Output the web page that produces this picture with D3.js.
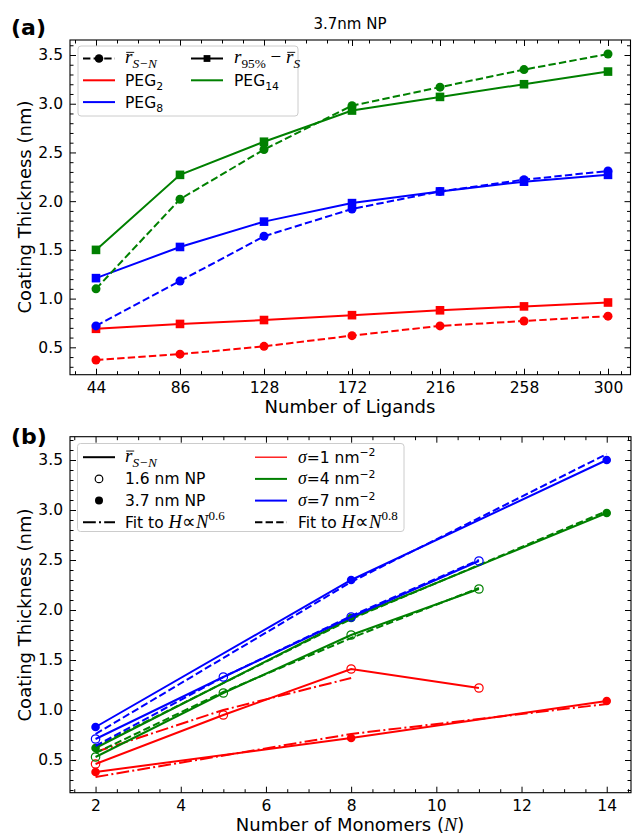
<!DOCTYPE html>
<html><head><meta charset="utf-8">
<script src="https://cdn.jsdelivr.net/npm/d3@7"></script>
<style>body{margin:0;background:#fff} svg{display:block}</style>
</head><body><svg id="c" width="632" height="837"></svg>
<script>
// ---------- Panel (a) data ----------
const ligands = [44, 86, 128, 172, 216, 258, 300];
const peg2_rSN  = [0.37, 0.43, 0.51, 0.62, 0.72, 0.77, 0.82];
const peg2_r95  = [0.69, 0.74, 0.78, 0.83, 0.88, 0.92, 0.96];
const peg8_rSN  = [0.72, 1.18, 1.64, 1.92, 2.10, 2.22, 2.31];
const peg8_r95  = [1.21, 1.53, 1.79, 1.98, 2.10, 2.20, 2.27];
const peg14_rSN = [1.10, 2.02, 2.53, 2.98, 3.17, 3.35, 3.51];
const peg14_r95 = [1.50, 2.27, 2.61, 2.93, 3.07, 3.20, 3.33];
const xTicksA = [44, 86, 128, 172, 216, 258, 300];
const yTicks = [0.5, 1.0, 1.5, 2.0, 2.5, 3.0, 3.5];

// ---------- Panel (b) data ----------
const monomers16 = [2, 5, 8, 11];
const monomers37 = [2, 8, 14];
const monomersFit16s1 = [2, 5, 8];
const np16_s1 = [0.46, 0.95, 1.41, 1.22];
const np16_s4 = [0.53, 1.17, 1.75, 2.21];
const np16_s7 = [0.71, 1.33, 1.93, 2.49];
const np37_s1 = [0.38, 0.72, 1.09];
const np37_s4 = [0.62, 1.92, 2.97];
const np37_s7 = [0.83, 2.30, 3.50];
const fit16_s1 = [0.58, 1.00, 1.32];      // H ~ N^0.6
const fit37_s1 = [0.33, 0.76, 1.06];      // H ~ N^0.6
const fit16_s4 = [0.57, 1.18, 1.72, 2.22]; // H ~ N^0.8
const fit16_s7 = [0.64, 1.33, 1.94, 2.50];
const fit37_s4 = [0.63, 1.91, 2.99];
const fit37_s7 = [0.76, 2.28, 3.56];
const xTicksB = [2, 4, 6, 8, 10, 12, 14];

const RED = "#ff0000", GREEN = "#008000", BLUE = "#0000ff";
const SANS = "DejaVu Sans", SERIF = "Liberation Serif";
const DASH = "7.4,3.2", DASHDOT = "12.8,3.2,2,3.2";

const svg = d3.select("#c");

function richText(sel, x, y, parts, size, anchor) {
  const t = sel.append("text").attr("x", x).attr("y", y)
    .attr("font-size", size).attr("font-family", SANS).attr("fill", "#000");
  if (anchor) t.attr("text-anchor", anchor);
  let shift = 0, idx = 0;
  const bars = [];
  parts.forEach(p => {
    const base = size * (p.k || 1);
    const target = p.sub ? base * 0.28 : p.sup ? -base * 0.42 : 0;
    const ts = t.append("tspan").text(p.t).attr("dy", target - shift);
    shift = target;
    ts.attr("font-size", (p.sub || p.sup) ? base * 0.7 : base);
    if (p.f === "it") ts.attr("font-family", SERIF).attr("font-style", "italic");
    else if (p.f === "rm") ts.attr("font-family", SERIF);
    if (p.bar) bars.push(idx);
    idx += p.t.length;
  });
  bars.forEach(i => {
    const n = t.node();
    const s = n.getStartPositionOfChar(i), e = n.getEndPositionOfChar(i);
    sel.append("line").attr("x1", s.x + 1.2).attr("x2", e.x + 1.8)
      .attr("y1", y - size * 0.56).attr("y2", y - size * 0.56)
      .attr("stroke", "#000").attr("stroke-width", 0.9);
  });
  return t;
}

function frame(g, x, y, xMinor, yMinor, xTicks, yTicksArr, xFmt, yFmt) {
  const [x0, x1] = x.range(), [y0, y1] = y.range();
  const mk = (axis, tr, size, fmt, vals) => {
    const a = g.append("g").attr("transform", tr)
      .call(axis.tickValues(vals).tickSizeInner(size).tickSizeOuter(0).tickPadding(7).tickFormat(fmt));
    a.select(".domain").remove();
    a.selectAll("line").attr("stroke", "#000").attr("stroke-width", 1);
    a.selectAll("text").attr("font-family", SANS).attr("font-size", 15.5).attr("fill", "#000");
    return a;
  };
  const none = () => "";
  mk(d3.axisBottom(x), `translate(0,${y0})`, -6, xFmt, xTicks);
  mk(d3.axisTop(x), `translate(0,${y1})`, -6, none, xTicks);
  mk(d3.axisLeft(y), `translate(${x0},0)`, -6, yFmt, yTicksArr);
  mk(d3.axisRight(y), `translate(${x1},0)`, -6, none, yTicksArr);
  mk(d3.axisBottom(x), `translate(0,${y0})`, -3.5, none, xMinor);
  mk(d3.axisTop(x), `translate(0,${y1})`, -3.5, none, xMinor);
  mk(d3.axisLeft(y), `translate(${x0},0)`, -3.5, none, yMinor);
  mk(d3.axisRight(y), `translate(${x1},0)`, -3.5, none, yMinor);
  g.append("rect").attr("x", x0).attr("y", y1).attr("width", x1 - x0).attr("height", y0 - y1)
    .attr("fill", "none").attr("stroke", "#000").attr("stroke-width", 1.1);
}

function near(arr, v) { return arr.some(a => Math.abs(a - v) < 1e-6); }

// =================== Panel (a) ===================
const xa = d3.scaleLinear().domain([31, 311.25]).range([70, 630.5]);
const ya = d3.scaleLinear().domain([0.219, 3.654]).range([374.7, 40]);
const ga = svg.append("g");
const clipA = svg.append("clipPath").attr("id", "clipA");
clipA.append("rect").attr("x", 70).attr("y", 40).attr("width", 560.5).attr("height", 334.7);

const xMinorA = d3.range(-1, 26).map(k => 44 + k * 10.5).filter(v => v > 31 && v < 311 && !near(xTicksA, v));
const yMinorA = d3.range(3, 37).map(k => +(k / 10).toFixed(1)).filter(v => v > 0.219 && v < 3.654 && !near(yTicks, v));
frame(ga, xa, ya, xMinorA, yMinorA, xTicksA, yTicks, d3.format("d"), d3.format(".1f"));

const plotA = ga.append("g").attr("clip-path", "url(#clipA)");
const lineA = d3.line().x(d => xa(d[0])).y(d => ya(d[1]));
const seriesA = [
  { v: peg2_rSN, c: RED, dash: DASH, m: "circle" },
  { v: peg2_r95, c: RED, dash: null, m: "square" },
  { v: peg8_rSN, c: BLUE, dash: DASH, m: "circle" },
  { v: peg8_r95, c: BLUE, dash: null, m: "square" },
  { v: peg14_rSN, c: GREEN, dash: DASH, m: "circle" },
  { v: peg14_r95, c: GREEN, dash: null, m: "square" },
];
seriesA.forEach(s => {
  const pts = ligands.map((l, i) => [l, s.v[i]]);
  plotA.append("path").attr("d", lineA(pts)).attr("fill", "none")
    .attr("stroke", s.c).attr("stroke-width", 2).attr("stroke-dasharray", s.dash);
  pts.forEach(p => {
    if (s.m === "circle")
      plotA.append("circle").attr("cx", xa(p[0])).attr("cy", ya(p[1])).attr("r", 4.5).attr("fill", s.c);
    else
      plotA.append("rect").attr("x", xa(p[0]) - 4.3).attr("y", ya(p[1]) - 4.3)
        .attr("width", 8.6).attr("height", 8.6).attr("fill", s.c);
  });
});

svg.append("text").attr("x", 350).attr("y", 28.5).attr("text-anchor", "middle")
  .attr("font-family", SANS).attr("font-size", 15).text("3.7nm NP");
svg.append("text").attr("x", 11).attr("y", 35).attr("font-family", SANS)
  .attr("font-weight", "bold").attr("font-size", 22).text("(a)");
svg.append("text").attr("x", 350).attr("y", 413).attr("text-anchor", "middle")
  .attr("font-family", SANS).attr("font-size", 18).text("Number of Ligands");
svg.append("text").attr("transform", "translate(31,207) rotate(-90)").attr("text-anchor", "middle")
  .attr("font-family", SANS).attr("font-size", 18).text("Coating Thickness (nm)");

// legend (a)
const MATH = 19;
const la = svg.append("g");
la.append("rect").attr("x", 78).attr("y", 46).attr("width", 220).attr("height", 70).attr("rx", 3)
  .attr("fill", "#fff").attr("fill-opacity", 0.8).attr("stroke", "#cccccc").attr("stroke-width", 1);
const rowsA = [58.5, 80.3, 102.1];
la.append("line").attr("x1", 83).attr("x2", 115).attr("y1", rowsA[0]).attr("y2", rowsA[0])
  .attr("stroke", "#000").attr("stroke-width", 2).attr("stroke-dasharray", DASH);
la.append("circle").attr("cx", 99).attr("cy", rowsA[0]).attr("r", 4.3).attr("fill", "#000");
richText(la, 125, rowsA[0] + 4.5, [{ t: "r", f: "it", bar: true }, { t: "S\u2212N", f: "it", sub: true }], MATH);
la.append("line").attr("x1", 83).attr("x2", 115).attr("y1", rowsA[1]).attr("y2", rowsA[1]).attr("stroke", RED).attr("stroke-width", 2);
richText(la, 125, rowsA[1] + 5.5, [{ t: "PEG" }, { t: "2", sub: true }], 15.5);
la.append("line").attr("x1", 83).attr("x2", 115).attr("y1", rowsA[2]).attr("y2", rowsA[2]).attr("stroke", BLUE).attr("stroke-width", 2);
richText(la, 125, rowsA[2] + 5.5, [{ t: "PEG" }, { t: "8", sub: true }], 15.5);
la.append("line").attr("x1", 191).attr("x2", 223).attr("y1", rowsA[0]).attr("y2", rowsA[0]).attr("stroke", "#000").attr("stroke-width", 2);
la.append("rect").attr("x", 207 - 3.4).attr("y", rowsA[0] - 3.4).attr("width", 6.8).attr("height", 6.8).attr("fill", "#000");
richText(la, 234, rowsA[0] + 4.5, [{ t: "r", f: "it" }, { t: "95%", f: "rm", sub: true }, { t: " \u2212 ", f: "rm" }, { t: "r", f: "it", bar: true }, { t: "S", f: "it", sub: true }], MATH);
la.append("line").attr("x1", 191).attr("x2", 223).attr("y1", rowsA[1]).attr("y2", rowsA[1]).attr("stroke", GREEN).attr("stroke-width", 2);
richText(la, 234, rowsA[1] + 5.5, [{ t: "PEG" }, { t: "14", sub: true }], 15.5);

// =================== Panel (b) ===================
const xb = d3.scaleLinear().domain([1.4, 14.57]).range([70, 631]);
const yb = d3.scaleLinear().domain([0.173, 3.733]).range([792.7, 436.7]);
const gb = svg.append("g");
const clipB = svg.append("clipPath").attr("id", "clipB");
clipB.append("rect").attr("x", 70).attr("y", 436.7).attr("width", 561).attr("height", 356);
const xMinorB = d3.range(3, 30).map(k => k / 2).filter(v => v > 1.4 && v < 14.57 && !near(xTicksB, v));
const yMinorB = d3.range(2, 38).map(k => +(k / 10).toFixed(1)).filter(v => v > 0.173 && v < 3.733 && !near(yTicks, v));
frame(gb, xb, yb, xMinorB, yMinorB, xTicksB, yTicks, d3.format("d"), d3.format(".1f"));

const plotB = gb.append("g").attr("clip-path", "url(#clipB)");
const lineB = d3.line().x(d => xb(d[0])).y(d => yb(d[1]));
function pathB(xs, ys, c, dash, w) {
  plotB.append("path").attr("d", lineB(xs.map((x, i) => [x, ys[i]]))).attr("fill", "none")
    .attr("stroke", c).attr("stroke-width", w || 2).attr("stroke-dasharray", dash);
}
function markersB(xs, ys, c, filled) {
  xs.forEach((x, i) => {
    const m = plotB.append("circle").attr("cx", xb(x)).attr("cy", yb(ys[i])).attr("r", filled ? 4.3 : 4.2);
    if (filled) m.attr("fill", c); else m.attr("fill", "none").attr("stroke", c).attr("stroke-width", 1.2);
  });
}
const dataB = [
  { c: RED, d16: np16_s1, d37: np37_s1, f16: fit16_s1, f16x: monomersFit16s1, f37: fit37_s1, dash: DASHDOT },
  { c: GREEN, d16: np16_s4, d37: np37_s4, f16: fit16_s4, f16x: monomers16, f37: fit37_s4, dash: DASH },
  { c: BLUE, d16: np16_s7, d37: np37_s7, f16: fit16_s7, f16x: monomers16, f37: fit37_s7, dash: DASH },
];
dataB.forEach(s => {
  pathB(monomers16, s.d16, s.c, null);
  markersB(monomers16, s.d16, s.c, false);
  pathB(monomers37, s.d37, s.c, null);
  markersB(monomers37, s.d37, s.c, true);
  pathB(s.f16x, s.f16, s.c, s.dash);
  pathB(monomers37, s.f37, s.c, s.dash);
});

svg.append("text").attr("x", 11).attr("y", 444).attr("font-family", SANS)
  .attr("font-weight", "bold").attr("font-size", 22).text("(b)");
richText(svg, 350, 831, [{ t: "Number of Monomers (" }, { t: "N", f: "it", k: 1.1 }, { t: ")" }], 18, "middle");
svg.append("text").attr("transform", "translate(31,615) rotate(-90)").attr("text-anchor", "middle")
  .attr("font-family", SANS).attr("font-size", 18).text("Coating Thickness (nm)");

// legend (b)
const lb = svg.append("g");
lb.append("rect").attr("x", 77.5).attr("y", 443.5).attr("width", 326.5).attr("height", 88).attr("rx", 3)
  .attr("fill", "#fff").attr("fill-opacity", 0.8).attr("stroke", "#cccccc").attr("stroke-width", 1);
const rowsB = [457.2, 478.9, 500.6, 522.3];
lb.append("line").attr("x1", 83).attr("x2", 115).attr("y1", rowsB[0]).attr("y2", rowsB[0]).attr("stroke", "#000").attr("stroke-width", 2);
richText(lb, 125, rowsB[0] + 4.5, [{ t: "r", f: "it", bar: true }, { t: "S\u2212N", f: "it", sub: true }], MATH);
lb.append("circle").attr("cx", 99).attr("cy", rowsB[1]).attr("r", 3.8).attr("fill", "none").attr("stroke", "#000").attr("stroke-width", 1.2);
richText(lb, 125, rowsB[1] + 5.5, [{ t: "1.6 nm NP" }], 15.5);
lb.append("circle").attr("cx", 99).attr("cy", rowsB[2]).attr("r", 4).attr("fill", "#000");
richText(lb, 125, rowsB[2] + 5.5, [{ t: "3.7 nm NP" }], 15.5);
lb.append("line").attr("x1", 83).attr("x2", 115).attr("y1", rowsB[3]).attr("y2", rowsB[3]).attr("stroke", "#000").attr("stroke-width", 2).attr("stroke-dasharray", DASHDOT);
const fitParts = e => [{ t: "Fit to " }, { t: "H", f: "it", k: 1.2 }, { t: "\u221D", f: "rm", k: 1.2 }, { t: "N", f: "it", k: 1.2 }, { t: e, f: "rm", sup: true, k: 1.2 }];
richText(lb, 125, rowsB[3] + 5.5, fitParts("0.6"), 15.5);

const sig = [{ c: RED, n: "1", w: 1.3 }, { c: GREEN, n: "4", w: 2 }, { c: BLUE, n: "7", w: 2 }];
sig.forEach((s, i) => {
  lb.append("line").attr("x1", 255).attr("x2", 287).attr("y1", rowsB[i]).attr("y2", rowsB[i]).attr("stroke", s.c).attr("stroke-width", s.w);
  richText(lb, 298, rowsB[i] + 5.5, [{ t: "\u03C3", f: "it", k: 1.15 }, { t: "=" + s.n + " nm" }, { t: "\u22122", sup: true }], 15.5);
});
lb.append("line").attr("x1", 255).attr("x2", 287).attr("y1", rowsB[3]).attr("y2", rowsB[3]).attr("stroke", "#000").attr("stroke-width", 2).attr("stroke-dasharray", DASH);
richText(lb, 298, rowsB[3] + 5.5, fitParts("0.8"), 15.5);
</script></body></html>
